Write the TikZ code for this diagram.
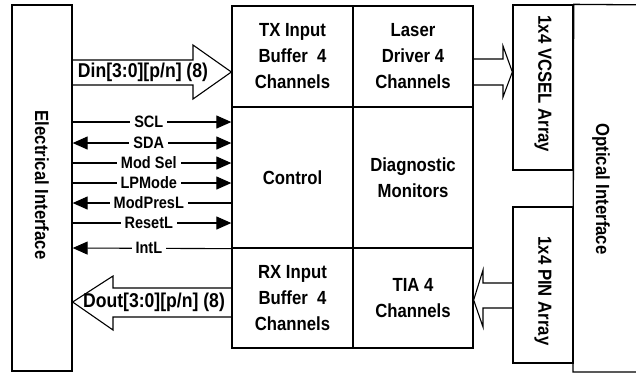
\documentclass[tikz,border=0pt]{standalone}
\usepackage{fontspec}
\setmainfont{Liberation Sans}[FakeStretch=0.88]
\usetikzlibrary{positioning, arrows.meta}

\begin{document}
\begin{tikzpicture}[x=1pt, y=-1pt,
    block/.style={rectangle, draw=black, line width=1.3pt, minimum width=121pt,
                  minimum height=101pt, align=center, inner sep=0pt,
                  font=\fontsize{19}{26}\selectfont\bfseries},
    side/.style={rectangle, draw=black, line width=1.3pt, minimum width=60pt},
    vlabel/.style={rotate=-90, font=\fontsize{19}{22}\selectfont\bfseries},
    hollow/.style={draw=black, line width=1.1pt, line join=miter},
    sig/.style={line width=1.1pt},
    sigr/.style={sig, -{Triangle[length=15pt, width=13pt]}},
    sigl/.style={sig, {Triangle[length=15pt, width=13pt]}-},
    sigb/.style={sig, {Triangle[length=15pt, width=13pt]}-{Triangle[length=15pt, width=13pt]}},
    lbl/.style={fill=white, inner xsep=4pt, inner ysep=0pt,
                font=\fontsize{16.5}{18}\selectfont\bfseries},
    bus/.style={inner sep=0pt, font=\fontsize{20}{22}\selectfont\bfseries}
]
    \useasboundingbox (0,0) rectangle (636,373);

    % Electrical side
    \node[side, minimum height=366pt] (elec) at (42,188) {};
    \node[vlabel] at (42,185) {Electrical Interface};

    % Central blocks
    \node[block] (txbuf) at (292.5,56.5) {TX Input\\Buffer~ 4\\Channels};
    \node[block, minimum width=120pt] (laser) at (413,56.5) {Laser\\Driver 4\\Channels};
    \node[block, minimum height=141pt] (ctrl) at (292.5,177.5) {Control};
    \node[block, minimum width=120pt, minimum height=141pt] (diag) at (413,177.5) {Diagnostic\\Monitors};
    \node[block, minimum height=100pt] (rxbuf) at (292.5,298) {RX Input\\Buffer~ 4\\Channels};
    \node[block, minimum width=120pt, minimum height=100pt] (tia) at (413,298) {TIA 4\\Channels};

    % Optical side
    \node[side, minimum height=165pt] (vcsel) at (543,87.5) {};
    \node[vlabel] at (543,84) {1x4 VCSEL Array};
    \node[side, minimum height=156pt] (pin) at (543,285) {};
    \node[vlabel] at (543,291) {1x4 PIN Array};
    \draw[line width=1.3pt] (660,5) -- (vcsel.north east) -- (573,372) -- (660,372);
    \node[vlabel] (optical) at (601,189) {Optical Interface};

    % Data in
    \draw[hollow] (elec.east |- 0,60) -- (193,60) -- (193,45) -- (txbuf.west |- 0,72)
        -- (193,99) -- (193,85) -- (elec.east |- 0,85);
    \node[bus] (din) at (143,72) {Din[3:0][p/n] (8)};

    % Data out
    \draw[hollow] (rxbuf.west |- 0,288) -- (113,288) -- (113,276) -- (elec.east |- 0,302)
        -- (113,330) -- (113,317) -- (rxbuf.west |- 0,317);
    \node[bus] (dout) at (154,302) {Dout[3:0][p/n] (8)};

    % Laser and PIN
    \draw[hollow] (laser.east |- 0,59) -- (503,59) -- (503,46) -- (vcsel.west |- 0,72)
        -- (503,97) -- (503,85) -- (laser.east |- 0,85);
    \draw[hollow] (pin.west |- 0,283) -- (483,283) -- (483,270) -- (tia.east |- 0,300)
        -- (483,327) -- (483,308) -- (pin.west |- 0,308);

    % Control signals
    \draw[sigr] (elec.east |- 0,122) -- node[lbl, pos=0.48] {SCL} (ctrl.west |- 0,122);
    \draw[sigb] (elec.east |- 0,143) -- node[lbl, pos=0.48] {SDA} (ctrl.west |- 0,143);
    \draw[sigr] (elec.east |- 0,163) -- node[lbl, pos=0.48] {Mod Sel} (ctrl.west |- 0,163);
    \draw[sigr] (elec.east |- 0,183) -- node[lbl, pos=0.48] {LPMode} (ctrl.west |- 0,183);
    \draw[sigl] (elec.east |- 0,203) -- node[lbl, pos=0.48] {ModPresL} (ctrl.west |- 0,203);
    \draw[sigr] (elec.east |- 0,223) -- node[lbl, pos=0.48] {ResetL} (ctrl.west |- 0,223);
    \draw[sigl] (elec.east |- 0,248) -- node[lbl, pos=0.48] {IntL} (ctrl.south west);

\end{tikzpicture}
\end{document}
